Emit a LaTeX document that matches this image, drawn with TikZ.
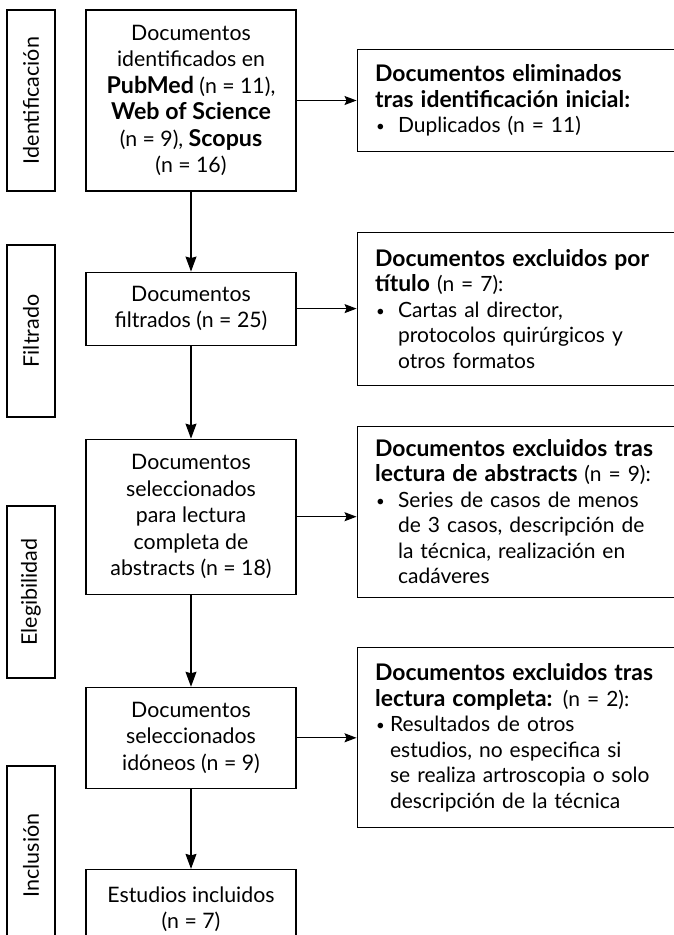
\documentclass[tikz,border=0pt]{standalone}
\usepackage{fontspec}
\setmainfont{Lato}[BoldFeatures={Scale=1.09}]
\usetikzlibrary{arrows.meta,positioning}
\tikzset{stagebox/.style={rectangle,draw=black,line width=1.1pt,rotate=90,minimum height=48pt,inner sep=0pt,font=\fontsize{21.5}{26}\selectfont}}
\tikzset{mainbox/.style={rectangle,draw=black,line width=1.1pt,minimum width=210pt,align=center,inner sep=4pt,font=\fontsize{21.3}{26.5}\selectfont}}
\tikzset{sidebox/.style={rectangle,draw=black,line width=1.1pt,text width=300pt,inner xsep=18pt,align=left,font=\fontsize{21}{25.5}\selectfont}}
\tikzset{toArrow/.style={{Stealth[length=15pt,width=11pt,inset=1.5pt]}-,line width=1.1pt}}
\tikzset{sideArrow/.style={{Stealth[length=12pt,width=9pt,inset=2pt]}-,line width=1.1pt}}
\newcommand{\bul}[1][23pt]{\makebox[#1][l]{\hspace{1pt}{\fontsize{15}{15}\selectfont\raisebox{1pt}{•}}}}

\begin{document}
\begin{tikzpicture}[x=1pt,y=-1pt]
\useasboundingbox (0,0) rectangle (673,935);
% fases
\node (ident) [stagebox, minimum width=181pt] at (31,100.5) {Identificación};
\node (filtr) [stagebox, minimum width=172pt] at (31,331) {Filtrado};
\node (elegi) [stagebox, minimum width=172pt] at (31,592) {Elegibilidad};
\node (inclu) [stagebox, minimum width=179pt] at (31,855.5) {Inclusión};
% columna central
\begin{scope}[node distance=80pt]
	\node (docs) [mainbox, minimum height=181pt] at (191,100.5) {Documentos\\identificados en\\\textbf{PubMed} (n = 11),\\\textbf{Web of Science}\\(n = 9), \textbf{Scopus}\\(n = 16)};
	\node (filtrados) [mainbox, minimum height=73pt, below=of docs] {Documentos\\filtrados (n = 25)} edge [toArrow] (docs);
	\node (abstracts) [mainbox, minimum height=155pt, below=93pt of filtrados] {Documentos\\seleccionados\\para lectura\\completa de\\abstracts (n = 18)} edge [toArrow] (filtrados);
	\node (idoneos) [mainbox, minimum height=101pt, below=92pt of abstracts] {Documentos\\seleccionados\\idóneos (n = 9)} edge [toArrow] (abstracts);
	\node (incluidos) [mainbox, minimum height=80pt, below=of idoneos] {Estudios incluidos\\(n = 7)} edge [toArrow] (idoneos);
\end{scope}
% excluidos
\begin{scope}[node distance=60pt]
	\node (elim) [sidebox, minimum height=102pt, right=of docs] {\textbf{Documentos eliminados}\\\textbf{tras identificación inicial:}\\\bul Duplicados (n = 11)} edge [sideArrow] (docs);
	\node (extit) [sidebox, minimum height=153pt, right=of filtrados] {\textbf{Documentos excluidos por}\\\textbf{título} (n = 7):\\\bul Cartas al director,\\\hspace*{23pt}protocolos quirúrgicos y\\\hspace*{23pt}otros formatos} edge [sideArrow] (filtrados);
	\node (exabs) [sidebox, minimum height=171pt, right=of abstracts, yshift=5pt] {\textbf{Documentos excluidos tras}\\\textbf{lectura de abstracts} (n = 9):\\\bul Series de casos de menos\\\hspace*{23pt}de 3 casos, descripción de\\\hspace*{23pt}la técnica, realización en\\\hspace*{23pt}cadáveres};
	\node (excomp) [sidebox, minimum height=180pt, right=of idoneos] {\textbf{Documentos excluidos tras}\\\textbf{lectura completa:} (n = 2):\\\bul[15pt]Resultados de otros\\\hspace*{15pt}estudios, no especifica si\\\hspace*{15pt}se realiza artroscopia o solo\\\hspace*{15pt}descripción de la técnica} edge [sideArrow] (idoneos);
\end{scope}
\draw [sideArrow] (abstracts.east -| exabs.west) -- (abstracts.east);
\end{tikzpicture}
\end{document}
